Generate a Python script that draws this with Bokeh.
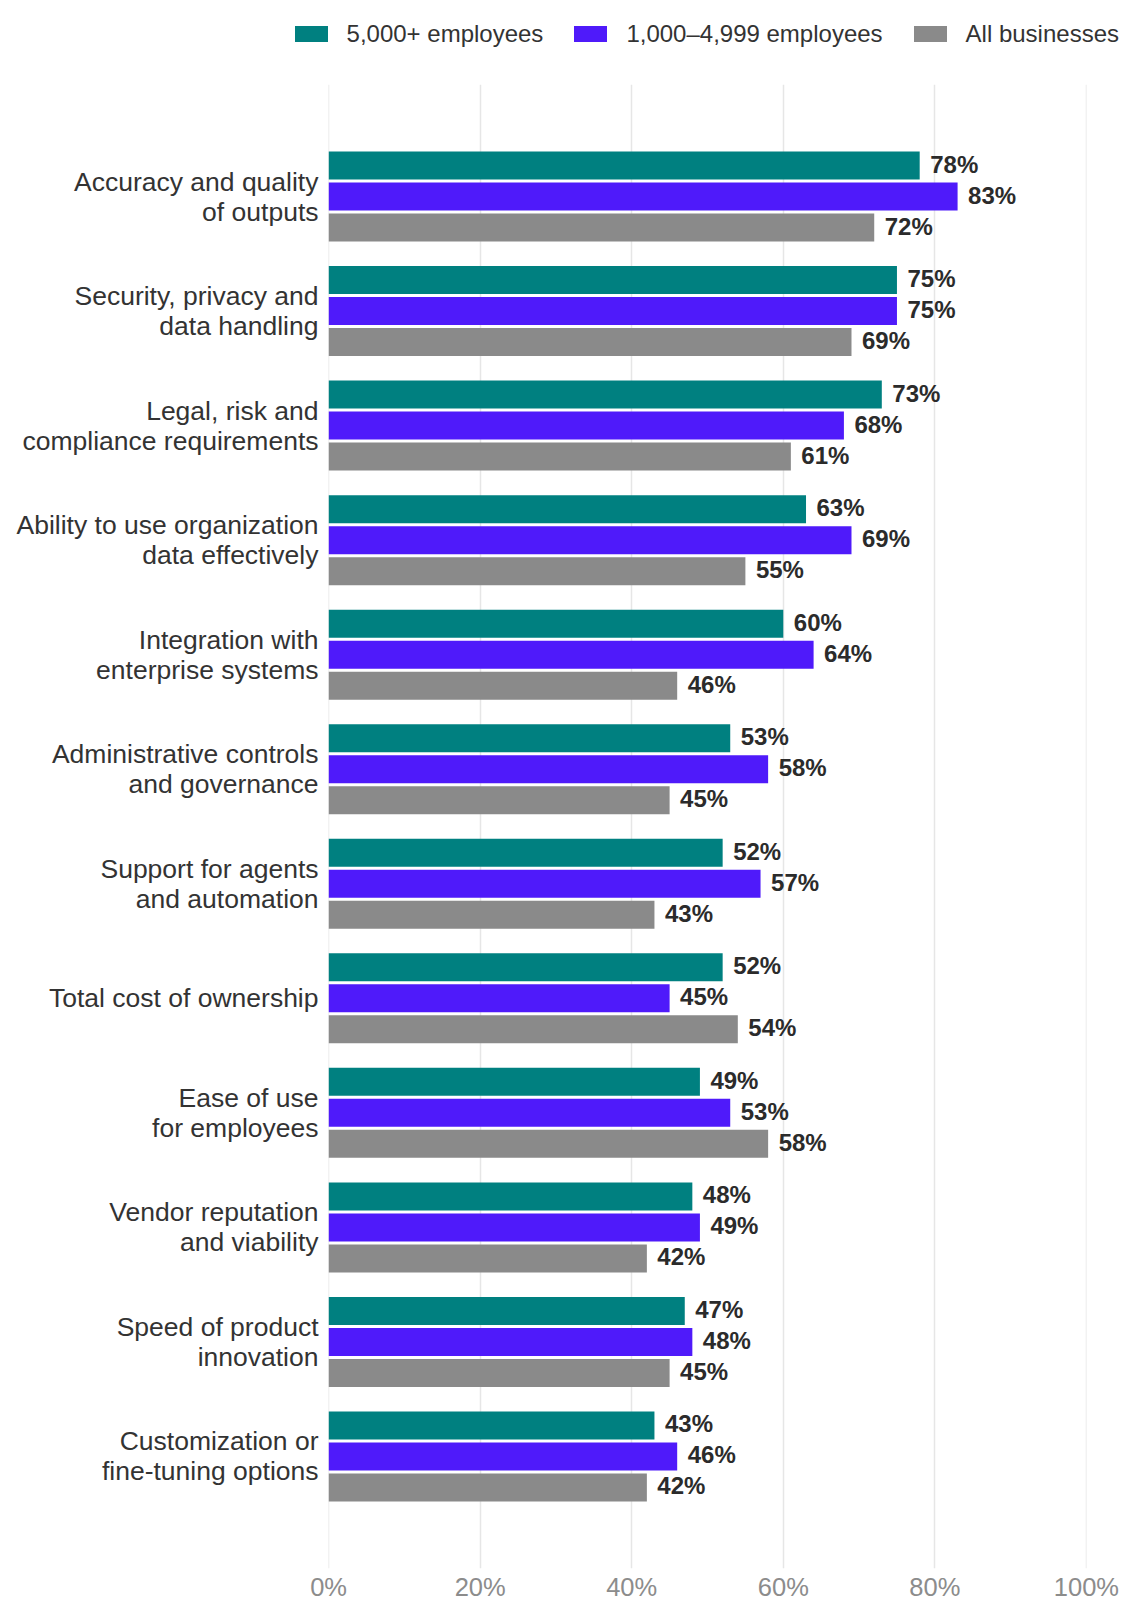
from bokeh.plotting import figure
from bokeh.layouts import column
from bokeh.models import ColumnDataSource, Range1d, FixedTicker, PrintfTickFormatter, Div
from bokeh.core.properties import value
from bokeh.embed import file_html
from bokeh.resources import INLINE

categories = [
    "Accuracy and quality\nof outputs",
    "Security, privacy and\ndata handling",
    "Legal, risk and\ncompliance requirements",
    "Ability to use organization\ndata effectively",
    "Integration with\nenterprise systems",
    "Administrative controls\nand governance",
    "Support for agents\nand automation",
    "Total cost of ownership",
    "Ease of use\nfor employees",
    "Vendor reputation\nand viability",
    "Speed of product\ninnovation",
    "Customization or\nfine-tuning options",
]
series_names = ["5,000+ employees", "1,000\u20134,999 employees", "All businesses"]
large = [78, 75, 73, 63, 60, 53, 52, 52, 49, 48, 47, 43]
mid = [83, 75, 68, 69, 64, 58, 57, 45, 53, 49, 48, 46]
all_biz = [72, 69, 61, 55, 46, 45, 43, 54, 58, 42, 45, 42]
x_ticks = [0, 20, 40, 60, 80, 100]

colors = ["#008080", "#4f1afa", "#8a8a8a"]
offsets = [-0.2707, 0.0, 0.2707]
bar_h = 0.2445
n = len(categories)

FONT = "Liberation Sans"
W = 1143
TOP_H = 84
FW, FH = 758, 1484
LEFT = 328

# ---- legend strip (HTML) above the chart ----
item_html = []
for k, (name, col) in enumerate(zip(series_names, colors)):
    ml = "0" if k == 0 else "31px"
    item_html.append(
        f'<div style="display:flex;align-items:center;margin-left:{ml};">'
        f'<span style="display:inline-block;width:33px;height:16px;background:{col};margin-right:19px;"></span>'
        f'<span style="white-space:nowrap;">{name}</span></div>'
    )
legend_html = (
    f'<div style="width:{W}px;height:{TOP_H}px;box-sizing:border-box;display:flex;'
    f'justify-content:flex-end;align-items:flex-start;padding-top:20px;padding-right:24px;'
    f"font-family:'{FONT}';font-size:24px;line-height:28px;color:#333333;\">"
    + "".join(item_html) + "</div>"
)
lg = Div(text=legend_html, width=W, height=TOP_H, margin=0)

# ---- main chart ----
p = figure(frame_width=FW, frame_height=FH, output_backend="svg", toolbar_location=None, title=None,
           x_range=Range1d(-0.01, 100.01), y_range=Range1d(n - 1 + 0.978, -0.978),
           min_border_left=LEFT, min_border_right=W - LEFT - FW, min_border_top=0,
           min_border_bottom=1618 - TOP_H - FH, margin=0)
p.outline_line_color = None

for vals, col, off in zip([large, mid, all_biz], colors, offsets):
    src = ColumnDataSource(dict(
        y=[i + off for i in range(n)],
        v=vals,
        lab=[f"{v}%" for v in vals],
    ))
    p.hbar(y="y", right="v", left=0, height=bar_h, source=src, fill_color=col, line_color=None)
    p.text(x="v", y="y", text="lab", source=src, x_offset=10.5, y_offset=-1.5, text_baseline="middle",
           text_align="left", text_font=value(FONT), text_font_style="bold",
           text_font_size="24px", text_color="#2b2b2b")

# x axis
p.xaxis.ticker = FixedTicker(ticks=x_ticks)
p.xaxis.formatter = PrintfTickFormatter(format="%d%%")
p.xaxis.axis_line_color = None
p.xaxis.major_tick_line_color = None
p.xaxis.minor_tick_line_color = None
p.xaxis.major_label_text_font = FONT
p.xaxis.major_label_text_font_size = "25.5px"
p.xaxis.major_label_text_color = "#8c8c8c"
p.xaxis.major_label_standoff = -2

# y axis
p.yaxis.ticker = FixedTicker(ticks=list(range(n)))
p.yaxis.major_label_overrides = {i: c for i, c in enumerate(categories)}
p.yaxis.axis_line_color = None
p.yaxis.major_tick_line_color = None
p.yaxis.minor_tick_line_color = None
p.yaxis.major_label_text_font = FONT
p.yaxis.major_label_text_font_size = "26.5px"
p.yaxis.major_label_text_color = "#333333"
p.yaxis.major_label_text_line_height = 1.0
p.yaxis.major_label_standoff = 4

p.xgrid.grid_line_color = "#e6e6e6"
p.xgrid.grid_line_width = 1.5
p.ygrid.grid_line_color = None

layout = column(lg, p, spacing=0)
open("out.html", "w").write(file_html(layout, INLINE))
